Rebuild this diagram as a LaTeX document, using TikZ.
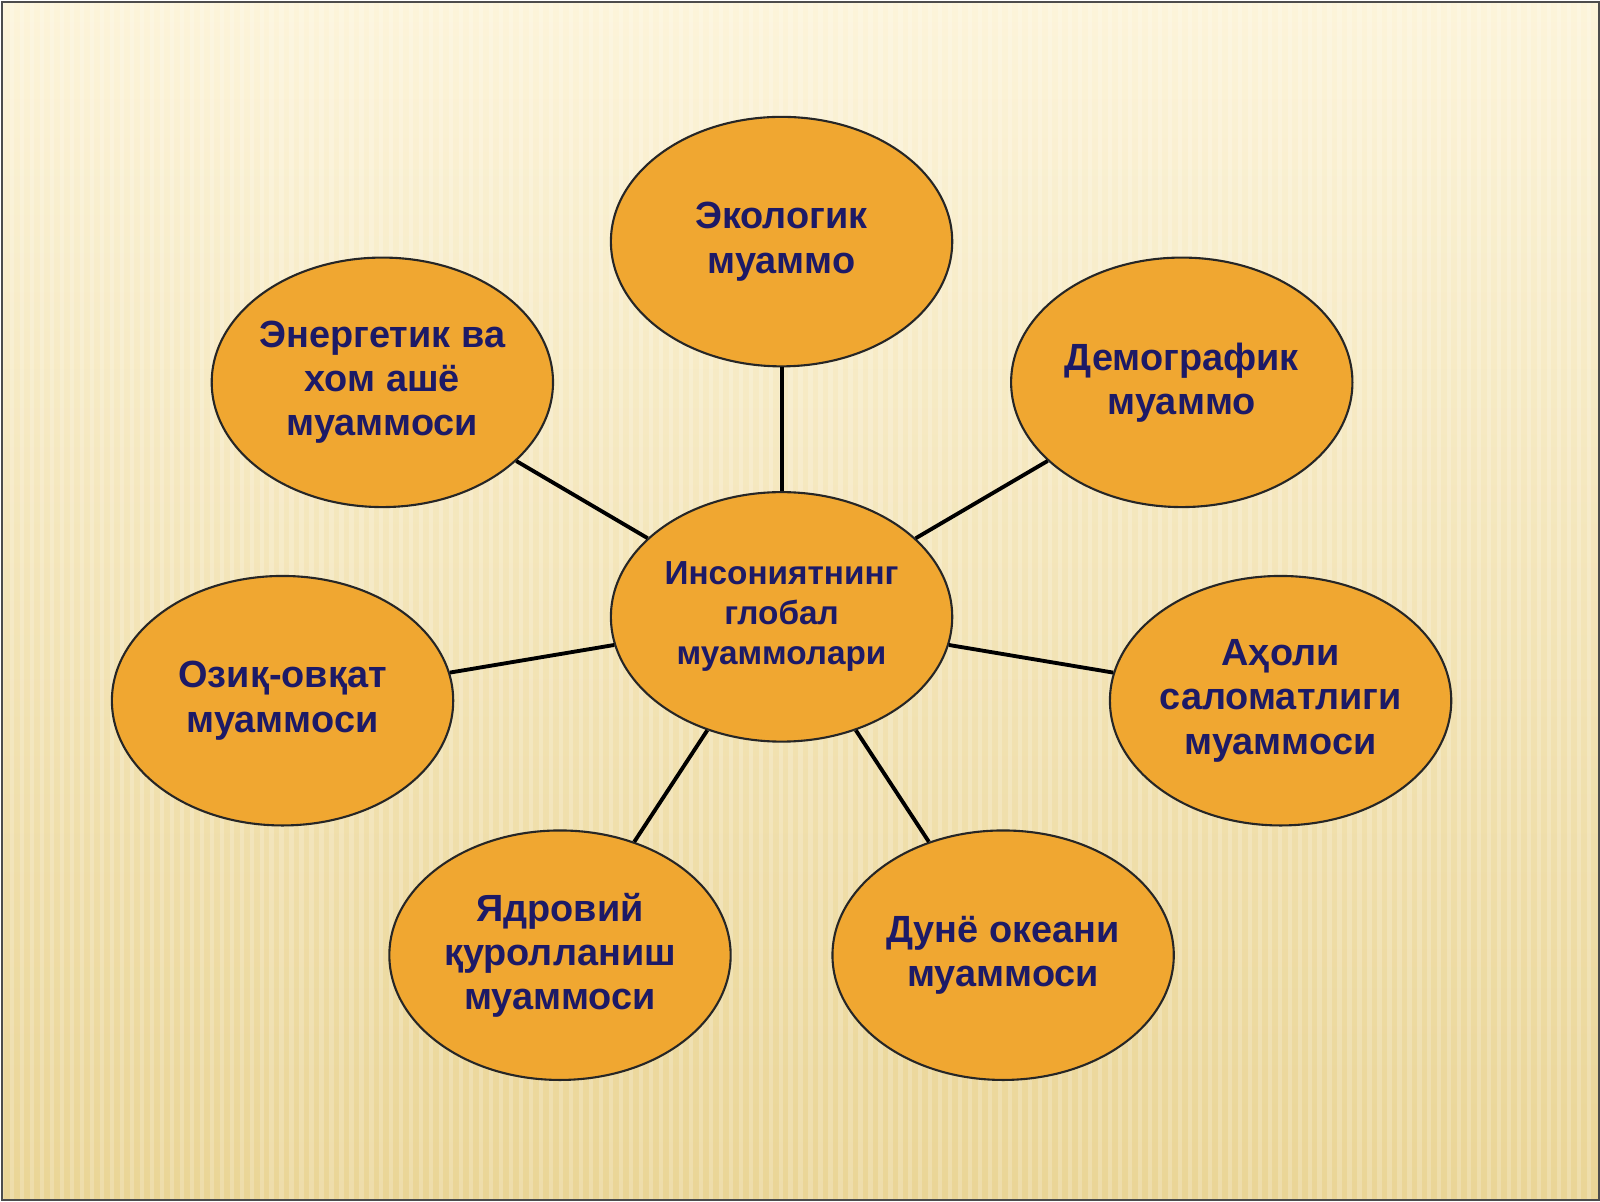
\documentclass[tikz,border=0pt]{standalone}
\usepackage{fontspec}
\setmainfont{Liberation Sans}
\usetikzlibrary{shapes.geometric}

\definecolor{bgtop}{HTML}{FCF4DA}
\definecolor{bgbot}{HTML}{EAD596}
\definecolor{blobfill}{HTML}{F0A731}
\definecolor{blobtext}{HTML}{1D1A66}

\begin{document}
\begin{tikzpicture}[
    x = 1cm, y = 1cm,
    blob/.style = {ellipse, draw = black!85, line width = 0.6pt,
        fill = blobfill, minimum width = 3.42cm, minimum height = 2.5cm,
        inner xsep = -12pt, inner ysep = -8pt, align = center, text = blobtext,
        font = \fontsize{10.8}{12.6}\selectfont\bfseries},
    hub/.style = {blob, font = \fontsize{9.5}{11.4}\selectfont\bfseries},
    link/.style = {line width = 1.1pt, black}]

% background
\shade[top color = bgtop, bottom color = bgbot] (0,0) rectangle (16,12);
\foreach \i in {0,0.1,...,16}
	\draw[white, opacity = 0.2, line width = 1.2pt] (\i,0) -- (\i,12);
\draw[black!70, line width = 0.6pt] (0,0) rectangle (16,12);
\useasboundingbox (0,0) rectangle (16,12);

% nodes
\node[hub]  (hub)   at (7.81, 5.84) {Инсониятнинг\\глобал\\муаммолари};
\node[blob] (eco)   at (7.81, 9.60) {Экологик\\муаммо};
\node[blob] (demo)  at (11.82, 8.19) {Демографик\\муаммо};
\node[blob] (energy) at (3.81, 8.19) {Энергетик ва\\хом ашё\\муаммоси};
\node[blob] (food)  at (2.81, 5.00) {Озиқ-овқат\\муаммоси};
\node[blob] (health) at (12.81, 5.00) {Аҳоли\\саломатлиги\\муаммоси};
\node[blob] (arms)  at (5.59, 2.45) {Ядровий\\қуролланиш\\муаммоси};
\node[blob] (ocean) at (10.03, 2.45) {Дунё океани\\муаммоси};

% links
\foreach \n in {eco, demo, energy, food, health, arms, ocean}
	\draw[link] (hub) -- (\n);
\end{tikzpicture}
\end{document}
